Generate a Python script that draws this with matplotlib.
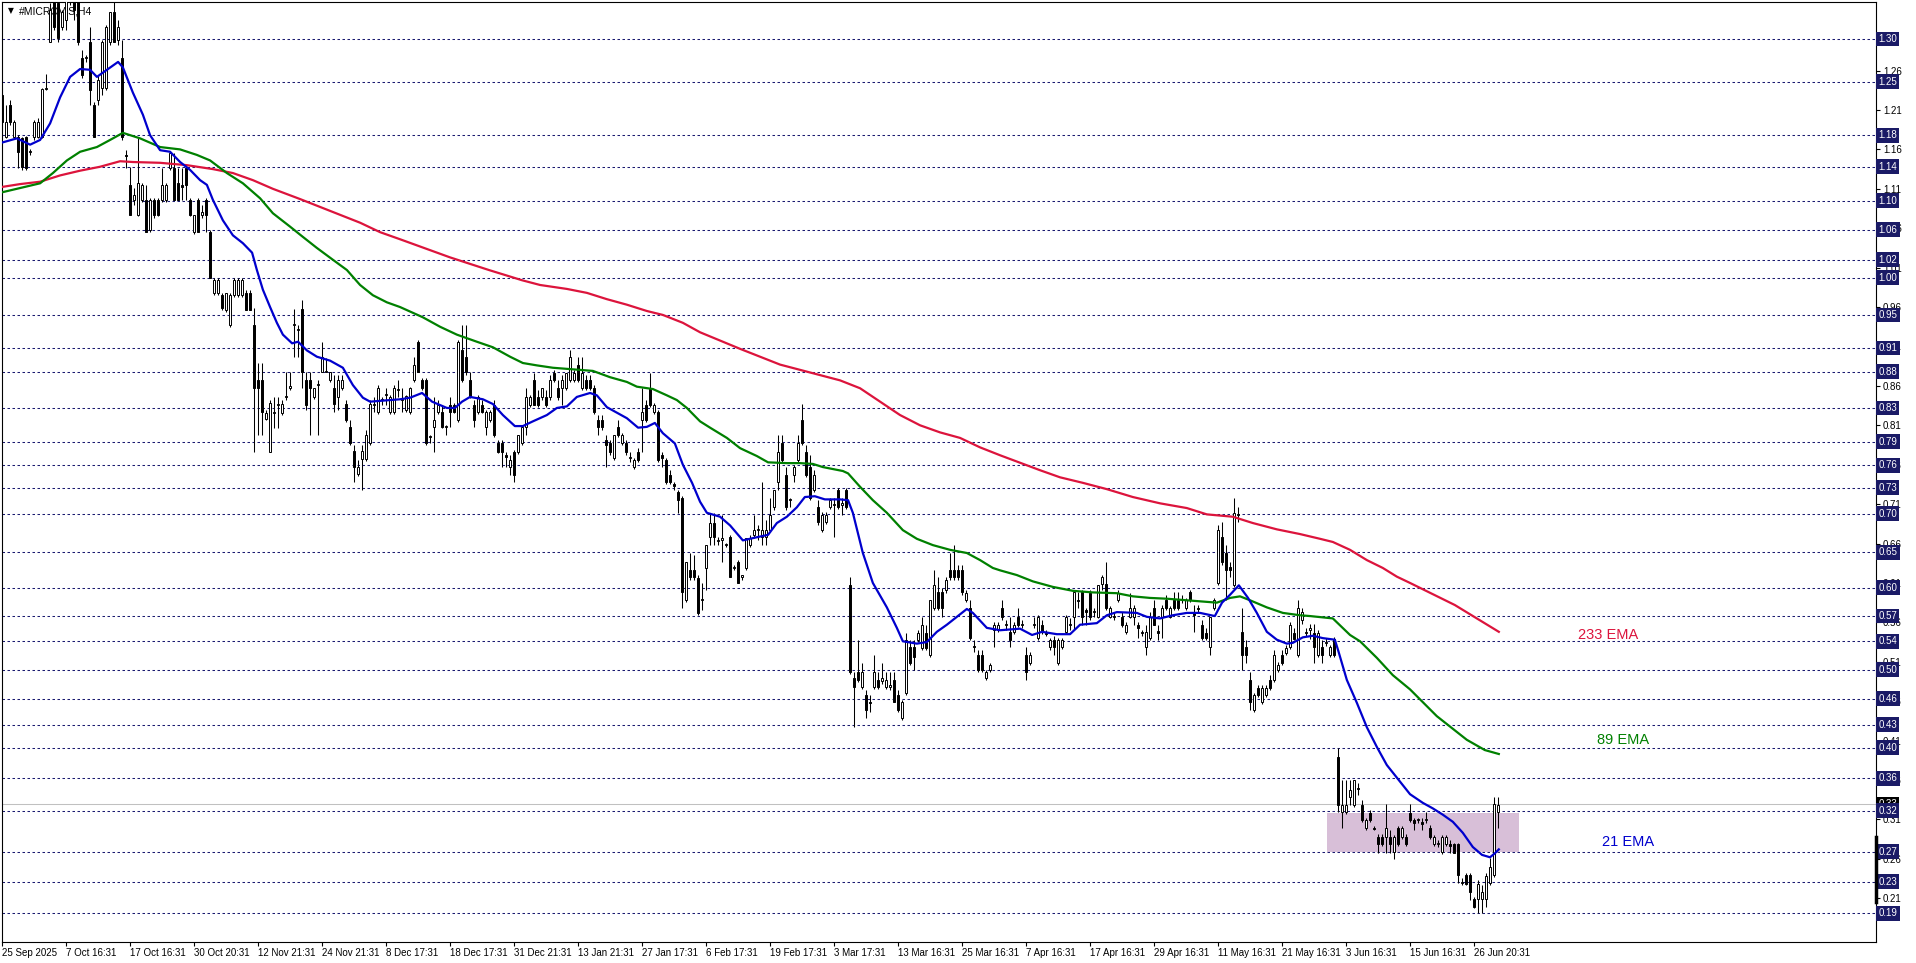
import matplotlib
matplotlib.use('Agg')
import matplotlib.pyplot as plt
from matplotlib.patches import Rectangle

plt.rcParams['font.family'] = ['Liberation Sans', 'DejaVu Sans']

# ---------------- data ----------------
opens = [
 1.229,1.176,1.216,1.176,1.176,1.174,1.176,1.157,1.176,1.176,
 1.176,1.237,1.296,1.350,1.346,1.315,1.324,1.356,1.362,1.350,
 1.276,1.276,1.296,1.216,1.223,1.238,1.238,1.296,1.334,1.299,
 1.276,1.153,1.115,1.096,1.077,1.096,1.096,1.058,1.096,1.096,
 1.096,1.096,1.136,1.136,1.117,1.115,1.136,1.096,1.055,1.096,
 1.077,1.096,1.055,0.978,0.978,0.975,0.956,0.937,0.975,0.975,
 0.975,0.978,0.978,0.937,0.867,0.867,0.818,0.776,0.826,0.836,
 0.826,0.846,0.857,0.937,0.931,0.957,0.867,0.867,0.846,0.861,
 0.878,0.878,0.867,0.857,0.846,0.857,0.837,0.808,0.777,0.748,
 0.767,0.767,0.788,0.836,0.827,0.842,0.848,0.827,0.827,0.855,
 0.842,0.829,0.827,0.867,0.916,0.867,0.867,0.795,0.808,0.827,
 0.827,0.808,0.836,0.836,0.817,0.905,0.897,0.867,0.836,0.827,
 0.836,0.808,0.817,0.836,0.788,0.788,0.772,0.757,0.776,0.776,
 0.788,0.808,0.836,0.867,0.846,0.846,0.846,0.846,0.876,0.857,
 0.857,0.857,0.867,0.867,0.886,0.857,0.867,0.867,0.857,0.817,
 0.817,0.791,0.788,0.768,0.808,0.788,0.788,0.768,0.757,0.776,
 0.817,0.836,0.857,0.827,0.827,0.772,0.766,0.747,0.735,0.725,
 0.718,0.588,0.626,0.626,0.616,0.588,0.629,0.668,0.686,0.663,
 0.664,0.658,0.668,0.629,0.637,0.618,0.629,0.658,0.671,0.677,
 0.668,0.668,0.677,0.706,0.738,0.788,0.747,0.715,0.747,0.766,
 0.817,0.776,0.757,0.728,0.706,0.677,0.687,0.706,0.709,0.728,
 0.709,0.728,0.607,0.489,0.497,0.478,0.468,0.459,0.478,0.487,
 0.485,0.478,0.478,0.487,0.468,0.439,0.470,0.529,0.529,0.538,
 0.527,0.546,0.519,0.578,0.599,0.599,0.601,0.626,0.626,0.626,
 0.626,0.588,0.578,0.530,0.519,0.519,0.489,0.500,0.550,0.550,
 0.578,0.557,0.548,0.548,0.567,0.557,0.519,0.508,0.557,0.540,
 0.557,0.546,0.529,0.538,0.508,0.529,0.548,0.557,0.567,0.588,
 0.599,0.576,0.597,0.573,0.567,0.609,0.609,0.567,0.567,0.588,
 0.567,0.548,0.567,0.567,0.557,0.546,0.529,0.540,0.578,0.548,
 0.567,0.588,0.567,0.588,0.588,0.588,0.578,0.599,0.573,0.578,
 0.557,0.546,0.529,0.578,0.610,0.668,0.648,0.630,0.607,0.696,
 0.548,0.529,0.487,0.449,0.477,0.459,0.468,0.487,0.487,0.500,
 0.519,0.521,0.529,0.546,0.519,0.563,0.546,0.550,0.546,0.519,
 0.529,0.534,0.519,0.539,0.389,0.319,0.319,0.338,0.328,0.349,
 0.328,0.299,0.318,0.299,0.288,0.288,0.288,0.288,0.269,0.299,
 0.288,0.288,0.318,0.309,0.309,0.307,0.309,0.299,0.279,0.279,
 0.269,0.279,0.279,0.279,0.279,0.229,0.240,0.240,0.209,0.209,
 0.209,0.209,0.229,0.240,0.319]
highs = [
 1.238,1.216,1.223,1.197,1.178,1.176,1.177,1.161,1.197,1.200,
 1.238,1.256,1.346,1.353,1.350,1.337,1.362,1.368,1.368,1.356,
 1.286,1.280,1.315,1.220,1.254,1.299,1.318,1.334,1.350,1.324,
 1.299,1.159,1.138,1.111,1.174,1.117,1.115,1.098,1.098,1.098,
 1.136,1.117,1.155,1.155,1.136,1.136,1.140,1.098,1.077,1.098,
 1.089,1.098,1.058,0.997,0.997,0.978,0.978,0.978,0.997,0.997,
 0.997,0.982,0.982,0.959,0.889,0.889,0.829,0.842,0.846,0.846,
 0.842,0.878,0.878,0.957,0.937,0.969,0.878,0.878,0.857,0.867,
 0.916,0.895,0.878,0.874,0.874,0.874,0.842,0.817,0.785,0.766,
 0.785,0.804,0.842,0.846,0.861,0.846,0.857,0.848,0.861,0.867,
 0.857,0.848,0.859,0.897,0.918,0.870,0.870,0.798,0.846,0.842,
 0.836,0.810,0.846,0.838,0.918,0.937,0.937,0.878,0.842,0.848,
 0.842,0.829,0.829,0.842,0.791,0.791,0.776,0.772,0.779,0.798,
 0.808,0.857,0.848,0.876,0.855,0.857,0.855,0.874,0.880,0.867,
 0.874,0.876,0.905,0.880,0.897,0.897,0.874,0.874,0.861,0.823,
 0.823,0.798,0.791,0.798,0.817,0.800,0.791,0.776,0.768,0.781,
 0.857,0.842,0.876,0.838,0.829,0.776,0.768,0.753,0.738,0.728,
 0.720,0.637,0.648,0.645,0.620,0.610,0.658,0.699,0.699,0.668,
 0.696,0.661,0.671,0.633,0.639,0.620,0.667,0.671,0.696,0.684,
 0.738,0.690,0.718,0.728,0.798,0.798,0.757,0.718,0.760,0.798,
 0.837,0.785,0.772,0.753,0.715,0.700,0.700,0.718,0.718,0.730,
 0.718,0.730,0.618,0.497,0.538,0.508,0.474,0.468,0.519,0.497,
 0.508,0.497,0.497,0.497,0.474,0.461,0.546,0.538,0.538,0.550,
 0.567,0.557,0.588,0.626,0.618,0.604,0.618,0.648,0.658,0.633,
 0.633,0.601,0.588,0.538,0.525,0.525,0.500,0.508,0.560,0.560,
 0.588,0.563,0.567,0.560,0.578,0.563,0.529,0.522,0.567,0.569,
 0.563,0.550,0.540,0.543,0.540,0.540,0.569,0.565,0.599,0.599,
 0.601,0.578,0.601,0.578,0.607,0.620,0.637,0.581,0.573,0.601,
 0.573,0.560,0.597,0.582,0.560,0.550,0.557,0.573,0.588,0.557,
 0.582,0.595,0.581,0.599,0.599,0.595,0.591,0.601,0.582,0.582,
 0.563,0.553,0.567,0.591,0.683,0.687,0.658,0.637,0.718,0.706,
 0.578,0.538,0.497,0.470,0.480,0.480,0.480,0.493,0.525,0.510,
 0.525,0.531,0.560,0.553,0.588,0.578,0.553,0.558,0.558,0.550,
 0.538,0.540,0.531,0.541,0.401,0.360,0.360,0.360,0.360,0.356,
 0.335,0.312,0.322,0.302,0.292,0.292,0.330,0.297,0.290,0.302,
 0.302,0.292,0.330,0.312,0.312,0.312,0.319,0.303,0.290,0.284,
 0.290,0.290,0.284,0.280,0.280,0.236,0.242,0.242,0.212,0.233,
 0.227,0.242,0.261,0.338,0.338]
lows = [
 1.176,1.174,1.191,1.174,1.136,1.134,1.134,1.153,1.172,1.174,
 1.174,1.235,1.296,1.311,1.296,1.311,1.311,1.343,1.324,1.292,
 1.251,1.271,1.216,1.176,1.216,1.229,1.235,1.292,1.296,1.292,
 1.172,1.136,1.077,1.089,1.075,1.093,1.055,1.055,1.073,1.075,
 1.093,1.093,1.134,1.096,1.096,1.096,1.096,1.075,1.053,1.055,
 1.073,1.055,0.997,0.975,0.975,0.956,0.954,0.935,0.973,0.973,
 0.973,0.956,0.956,0.776,0.798,0.798,0.817,0.776,0.807,0.807,
 0.823,0.842,0.855,0.897,0.897,0.857,0.829,0.798,0.843,0.798,
 0.878,0.877,0.865,0.827,0.829,0.855,0.814,0.785,0.738,0.746,
 0.728,0.765,0.785,0.827,0.824,0.836,0.836,0.824,0.824,0.846,
 0.827,0.827,0.824,0.865,0.878,0.855,0.785,0.788,0.776,0.824,
 0.807,0.798,0.808,0.826,0.814,0.865,0.874,0.845,0.808,0.824,
 0.826,0.798,0.814,0.795,0.775,0.757,0.757,0.747,0.738,0.774,
 0.785,0.798,0.833,0.836,0.833,0.842,0.833,0.842,0.865,0.842,
 0.836,0.855,0.865,0.865,0.865,0.855,0.855,0.855,0.824,0.798,
 0.804,0.757,0.772,0.766,0.795,0.785,0.772,0.763,0.754,0.763,
 0.776,0.814,0.833,0.824,0.763,0.757,0.735,0.735,0.728,0.699,
 0.578,0.586,0.614,0.614,0.569,0.576,0.601,0.658,0.658,0.658,
 0.637,0.656,0.618,0.626,0.610,0.614,0.626,0.656,0.667,0.664,
 0.658,0.658,0.675,0.702,0.728,0.763,0.702,0.706,0.738,0.763,
 0.785,0.744,0.715,0.725,0.684,0.675,0.685,0.704,0.668,0.704,
 0.696,0.704,0.494,0.427,0.484,0.475,0.439,0.446,0.475,0.475,
 0.482,0.475,0.474,0.459,0.446,0.436,0.468,0.506,0.500,0.535,
 0.525,0.525,0.516,0.576,0.576,0.567,0.597,0.614,0.614,0.614,
 0.595,0.586,0.538,0.522,0.497,0.497,0.487,0.497,0.529,0.548,
 0.563,0.550,0.529,0.545,0.554,0.553,0.487,0.506,0.553,0.538,
 0.545,0.543,0.525,0.519,0.506,0.526,0.545,0.550,0.550,0.578,
 0.557,0.557,0.563,0.567,0.565,0.601,0.576,0.565,0.563,0.586,
 0.554,0.545,0.565,0.557,0.540,0.543,0.519,0.538,0.557,0.538,
 0.540,0.576,0.565,0.576,0.576,0.584,0.576,0.586,0.548,0.573,
 0.538,0.538,0.519,0.576,0.607,0.633,0.588,0.618,0.605,0.687,
 0.500,0.508,0.449,0.446,0.465,0.456,0.465,0.474,0.484,0.497,
 0.506,0.519,0.526,0.538,0.516,0.558,0.543,0.539,0.508,0.516,
 0.508,0.530,0.516,0.516,0.320,0.299,0.317,0.328,0.326,0.341,
 0.307,0.296,0.307,0.296,0.267,0.276,0.267,0.267,0.260,0.276,
 0.285,0.276,0.307,0.296,0.305,0.296,0.305,0.285,0.276,0.275,
 0.266,0.276,0.267,0.267,0.229,0.227,0.227,0.208,0.198,0.191,
 0.191,0.199,0.227,0.237,0.299]
closes = [
 1.195,1.195,1.195,1.195,1.157,1.138,1.136,1.158,1.195,1.195,
 1.237,1.238,1.337,1.315,1.301,1.334,1.356,1.362,1.337,1.296,
 1.254,1.277,1.235,1.176,1.248,1.296,1.315,1.334,1.296,1.315,
 1.176,1.152,1.077,1.102,1.117,1.115,1.055,1.096,1.077,1.077,
 1.115,1.115,1.155,1.096,1.096,1.112,1.115,1.077,1.077,1.055,
 1.080,1.077,0.997,0.994,0.994,0.959,0.978,0.975,0.994,0.994,
 0.994,0.956,0.956,0.857,0.857,0.827,0.826,0.838,0.827,0.837,
 0.837,0.847,0.860,0.938,0.932,0.878,0.836,0.857,0.857,0.862,
 0.897,0.879,0.878,0.837,0.867,0.867,0.817,0.788,0.757,0.757,
 0.777,0.798,0.837,0.837,0.857,0.843,0.850,0.846,0.857,0.856,
 0.843,0.847,0.857,0.886,0.878,0.857,0.788,0.795,0.817,0.836,
 0.808,0.808,0.827,0.827,0.916,0.867,0.878,0.846,0.817,0.846,
 0.827,0.827,0.827,0.798,0.776,0.776,0.770,0.766,0.747,0.798,
 0.808,0.846,0.846,0.836,0.836,0.857,0.836,0.867,0.867,0.846,
 0.867,0.876,0.897,0.876,0.867,0.876,0.857,0.857,0.827,0.808,
 0.808,0.785,0.776,0.798,0.798,0.798,0.776,0.770,0.766,0.766,
 0.827,0.817,0.836,0.836,0.766,0.768,0.738,0.738,0.733,0.715,
 0.598,0.637,0.618,0.618,0.572,0.590,0.658,0.686,0.668,0.664,
 0.667,0.659,0.618,0.630,0.610,0.619,0.667,0.667,0.677,0.678,
 0.677,0.677,0.696,0.728,0.776,0.766,0.706,0.716,0.757,0.788,
 0.788,0.747,0.718,0.747,0.687,0.696,0.696,0.715,0.710,0.706,
 0.711,0.706,0.497,0.478,0.487,0.497,0.449,0.458,0.497,0.478,
 0.489,0.487,0.480,0.459,0.449,0.459,0.538,0.508,0.516,0.546,
 0.557,0.527,0.588,0.607,0.578,0.578,0.614,0.618,0.618,0.618,
 0.599,0.597,0.540,0.529,0.500,0.500,0.497,0.506,0.557,0.557,
 0.567,0.558,0.538,0.557,0.557,0.558,0.497,0.519,0.558,0.567,
 0.548,0.545,0.538,0.529,0.538,0.538,0.567,0.558,0.599,0.587,
 0.567,0.573,0.567,0.574,0.607,0.618,0.578,0.578,0.568,0.597,
 0.557,0.557,0.578,0.578,0.553,0.548,0.548,0.567,0.557,0.547,
 0.578,0.578,0.578,0.578,0.578,0.590,0.588,0.588,0.569,0.577,
 0.540,0.540,0.567,0.588,0.677,0.637,0.626,0.626,0.699,0.697,
 0.519,0.519,0.459,0.468,0.468,0.477,0.477,0.477,0.519,0.506,
 0.508,0.527,0.557,0.539,0.578,0.573,0.548,0.553,0.529,0.546,
 0.519,0.535,0.529,0.519,0.328,0.328,0.328,0.347,0.360,0.348,
 0.309,0.309,0.309,0.298,0.279,0.279,0.299,0.279,0.288,0.279,
 0.299,0.279,0.309,0.305,0.310,0.304,0.310,0.288,0.288,0.280,
 0.288,0.288,0.276,0.267,0.240,0.230,0.228,0.218,0.199,0.228,
 0.218,0.238,0.250,0.330,0.328]

# EMA curves: (bar position, price)
ema21_x = [-0.6,3.6,6.9,9.4,11.9,14.4,16.9,19.4,21.9,23.6,26.1,28.9,30.1,32.6,35.1,36.9,39.4,41.9,44.4,46.9,
           49.4,51.1,52.6,55.1,57.6,60.1,62.4,63.6,65.1,66.9,68.6,70.1,72.4,73.9,76.1,78.6,81.9,85.1,87.6,90.1,
           91.9,99.4,101.9,104.9,107.4,111.1,113.1,114.9,116.9,120.1,122.6,125.1,128.1,130.1,132.6,136.1,138.6,141.1,143.6,146.9,
           148.6,151.1,153.6,156.1,158.9,161.1,163.1,165.1,168.1,170.1,172.4,174.4,176.1,179.4,181.9,185.1,188.6,191.4,193.6,196.1,
           198.6,200.6,203.1,205.6,209.4,211.4,212.6,215.1,217.6,221.1,223.6,225.1,228.6,231.1,233.6,236.1,238.6,241.1,242.6,246.1,
           249.4,254.4,257.4,259.9,263.6,266.9,269.4,273.6,276.1,278.6,283.6,286.1,289.4,292.6,296.1,299.4,303.1,304.9,306.9,309.1,
           311.4,313.6,316.1,318.6,321.1,322.6,325.1,327.6,330.1,333.1,333.9,336.1,338.6,341.1,343.6,346.1,348.6,351.9,355.1,357.6,
           360.1,362.6,365.1,367.6,369.9,371.9,373.1,374.1]
ema21_y = [1.168,1.174,1.166,1.172,1.193,1.226,1.252,1.262,1.261,1.252,1.261,1.271,1.264,1.232,1.204,1.178,1.159,1.157,1.144,1.134,
           1.121,1.115,1.096,1.070,1.051,1.041,1.029,1.007,0.982,0.960,0.940,0.925,0.914,0.916,0.905,0.897,0.892,0.883,0.861,0.845,
           0.840,0.843,0.845,0.851,0.840,0.832,0.832,0.840,0.846,0.843,0.837,0.823,0.809,0.809,0.815,0.823,0.832,0.834,0.846,0.851,
           0.848,0.833,0.826,0.819,0.807,0.808,0.813,0.800,0.787,0.760,0.737,0.713,0.699,0.694,0.683,0.664,0.668,0.671,0.686,0.694,
           0.706,0.719,0.720,0.716,0.716,0.715,0.699,0.648,0.610,0.579,0.553,0.536,0.533,0.535,0.548,0.557,0.567,0.577,0.572,0.553,
           0.550,0.552,0.544,0.548,0.545,0.545,0.557,0.559,0.569,0.573,0.572,0.567,0.565,0.569,0.572,0.572,0.568,0.585,0.595,0.607,
           0.591,0.572,0.548,0.538,0.533,0.534,0.541,0.543,0.540,0.538,0.525,0.487,0.458,0.427,0.402,0.379,0.363,0.342,0.331,0.324,
           0.316,0.307,0.293,0.275,0.265,0.262,0.267,0.272]

ema89_x = [-0.6,4.4,9.4,12.6,16.1,19.4,23.6,26.9,30.1,34.4,39.4,44.4,48.6,51.9,56.1,60.1,64.4,67.6,71.9,75.1,
           78.6,82.6,86.1,89.4,92.6,96.1,99.4,105.1,109.4,113.6,118.6,122.6,126.9,130.1,133.6,137.6,142.6,147.6,151.9,156.1,
           158.6,162.6,166.1,168.6,171.1,174.4,176.9,181.1,184.4,188.6,191.4,196.1,199.4,202.6,205.1,210.1,211.4,214.4,217.6,221.1,
           225.1,228.6,232.6,236.9,241.1,244.4,247.6,249.4,253.6,257.6,262.6,267.6,272.6,278.6,282.6,286.9,291.1,296.1,301.1,303.6,
           306.9,309.4,311.9,316.1,320.1,324.4,326.9,332.6,336.9,339.4,343.6,347.6,351.9,358.6,366.1,370.6,374.1]
ema89_y = [1.105,1.111,1.117,1.130,1.146,1.157,1.163,1.172,1.181,1.174,1.163,1.160,1.153,1.146,1.130,1.117,1.098,1.079,1.062,1.049,
           1.035,1.020,1.007,0.988,0.975,0.966,0.960,0.947,0.935,0.925,0.916,0.909,0.897,0.889,0.886,0.883,0.881,0.879,0.871,0.865,
           0.859,0.856,0.848,0.842,0.832,0.815,0.807,0.794,0.781,0.771,0.763,0.762,0.762,0.761,0.757,0.752,0.749,0.732,0.715,0.699,
           0.677,0.666,0.658,0.652,0.648,0.639,0.629,0.626,0.620,0.612,0.605,0.600,0.598,0.597,0.593,0.591,0.590,0.588,0.586,0.585,
           0.591,0.593,0.588,0.579,0.572,0.569,0.568,0.565,0.544,0.536,0.515,0.493,0.475,0.441,0.411,0.398,0.393]

ema233_x = [-0.6,4.4,9.4,14.4,19.4,24.4,29.4,32.6,39.4,46.1,52.6,57.6,62.6,67.6,74.4,79.4,84.4,89.4,94.4,99.4,
            111.9,121.6,129.9,134.4,141.1,146.1,151.1,156.1,161.1,165.1,170.1,174.4,184.4,194.4,209.4,214.4,219.4,224.4,229.4,234.4,
            239.4,244.4,249.4,259.4,264.4,270.1,276.1,282.6,289.4,296.1,301.1,307.6,312.6,318.6,324.4,329.4,332.6,336.9,341.1,345.1,
            348.6,351.9,363.1,374.1]
ema233_y = [1.112,1.116,1.119,1.127,1.133,1.138,1.145,1.144,1.143,1.140,1.135,1.130,1.121,1.110,1.097,1.087,1.077,1.067,1.055,1.046,
            1.023,1.007,0.994,0.988,0.983,0.978,0.970,0.963,0.955,0.950,0.940,0.928,0.907,0.887,0.867,0.857,0.840,0.823,0.810,0.801,
            0.794,0.782,0.772,0.753,0.744,0.737,0.729,0.719,0.711,0.705,0.697,0.694,0.686,0.678,0.672,0.666,0.662,0.652,0.639,0.629,
            0.618,0.610,0.582,0.548]

# horizontal price levels drawn on the chart and their labels
levels = [1.300,1.246,1.178,1.138,1.095,1.058,1.020,0.997,0.950,0.908,0.878,0.832,0.789,0.759,0.731,
          0.698,0.649,0.604,0.568,0.536,0.500,0.463,0.430,0.401,0.362,0.321,0.269,0.231,0.191]
level_labels = ['1.30','1.25','1.18','1.14','1.10','1.06','1.02','1.00','0.95','0.91','0.88','0.83','0.79','0.76','0.73',
                '0.70','0.65','0.60','0.57','0.54','0.50','0.46','0.43','0.40','0.36','0.32','0.27','0.23','0.19']

y_ticks = [0.21,0.26,0.31,0.36,0.41,0.46,0.51,0.56,0.61,0.66,0.71,0.76,0.81,0.86,0.91,0.96,1.01,1.06,1.11,1.16,1.21,1.26]

x_label_bars = [0,16,32,48,64,80,96,112,128,144,160,176,192,208,224,240,256,272,288,304,320,336,352,368]
x_labels = ['25 Sep 2025','7 Oct 16:31','17 Oct 16:31','30 Oct 20:31','12 Nov 21:31','24 Nov 21:31',
            '8 Dec 17:31','18 Dec 17:31','31 Dec 21:31','13 Jan 21:31','27 Jan 17:31','6 Feb 17:31',
            '19 Feb 17:31','3 Mar 17:31','13 Mar 16:31','25 Mar 16:31','7 Apr 16:31','17 Apr 16:31',
            '29 Apr 16:31','11 May 16:31','21 May 16:31','3 Jun 16:31','15 Jun 16:31','26 Jun 20:31']

zone_bars = (331.1, 379.1)
zone_prices = (0.269, 0.318)
last_price = 0.3295
spread_marker = (0.205, 0.288)

# ---------------- figure ----------------
W, H = 1916, 963
fig = plt.figure(figsize=(W / 100, H / 100), dpi=100)
fig.patch.set_facecolor('white')
ax = fig.add_axes([2 / W, 21 / H, (1876 - 2) / W, (942 - 2) / H])
ax.set_facecolor('white')
ax.set_xlim(-0.125, 468.4)
ax.set_ylim(0.1545, 1.347)

# zone rectangle
ax.add_patch(Rectangle((zone_bars[0], zone_prices[0]), zone_bars[1] - zone_bars[0],
                       zone_prices[1] - zone_prices[0], facecolor='#D8BFD8', edgecolor='none', zorder=0.5))

# dashed levels
for lv in levels:
    ax.axhline(lv, color='#1a1a70', lw=0.75, ls=(0, (2.4, 2.4)), zorder=1)
ax.axhline(last_price, color='#c0c0c0', lw=0.75, zorder=1)

# title (drawn beneath the candles)
ax.text(6 / 1874, 1 - 9 / 940, '\u25BC', transform=ax.transAxes, fontsize=5.5, va='center', ha='left',
        family=['DejaVu Sans'], zorder=1.2)
ax.text(17 / 1874, 1 - 9 / 940, '#MICROVIS,H4', transform=ax.transAxes, fontsize=7.5, va='center',
        ha='left', zorder=1.2)

# candles
n = len(opens)
idx = list(range(n))
ax.vlines(idx, lows, highs, color='black', lw=0.75, zorder=2)
bw = 0.5
for i in idx:
    o, c = opens[i], closes[i]
    bottom = min(o, c)
    h = max(abs(c - o), 0.0015)
    bull = c >= o
    ax.bar(i, h, bottom=bottom, width=bw, color='white' if bull else 'black',
           edgecolor='black', linewidth=0.7, zorder=3)

# EMAs
ax.plot(ema233_x, ema233_y, color='#DC143C', lw=1.6, zorder=4, solid_joinstyle='round')
ax.plot(ema89_x, ema89_y, color='#008000', lw=1.6, zorder=4, solid_joinstyle='round')
ax.plot(ema21_x, ema21_y, color='#0000CD', lw=1.6, zorder=4, solid_joinstyle='round')

ax.text(393.9, 0.544, '233 EMA', color='#DC143C', fontsize=10.5, va='center', ha='left')
ax.text(398.6, 0.411, '89 EMA', color='#008000', fontsize=10.5, va='center', ha='left')
ax.text(399.9, 0.281, '21 EMA', color='#0000CD', fontsize=10.5, va='center', ha='left')

# axes styling
for s in ax.spines.values():
    s.set_color('black')
    s.set_linewidth(0.8)
ax.yaxis.tick_right()
ax.set_yticks(y_ticks)
ax.set_yticklabels(['%.2f' % v for v in y_ticks])
ax.tick_params(axis='y', direction='out', length=3, width=0.8, pad=2, labelsize=7, colors='black')
ax.set_xticks(x_label_bars)
ax.set_xticklabels(x_labels)
ax.tick_params(axis='x', direction='out', length=3, width=0.8, pad=1.5, labelsize=7, colors='black')
for lbl in ax.get_xticklabels():
    lbl.set_ha('left')

ytr = ax.get_yaxis_transform()
# last price box
ax.text(1.0012, last_price, '0.33', transform=ytr, fontsize=7, color='white', va='center', ha='left',
        clip_on=False, zorder=6,
        bbox=dict(boxstyle='square,pad=0.25', facecolor='black', edgecolor='none'))
for lv, lab in zip(levels, level_labels):
    ax.text(1.0012, lv, lab, transform=ytr, fontsize=7, color='white', va='center', ha='left',
            clip_on=False, zorder=7,
            bbox=dict(boxstyle='square,pad=0.25', facecolor='#1a1a66', edgecolor='none'))
ax.plot([1.0, 1.0], list(spread_marker), transform=ytr, color='black', lw=2.5, clip_on=False, zorder=8)

fig.savefig('out.png', dpi=100, facecolor='white')
